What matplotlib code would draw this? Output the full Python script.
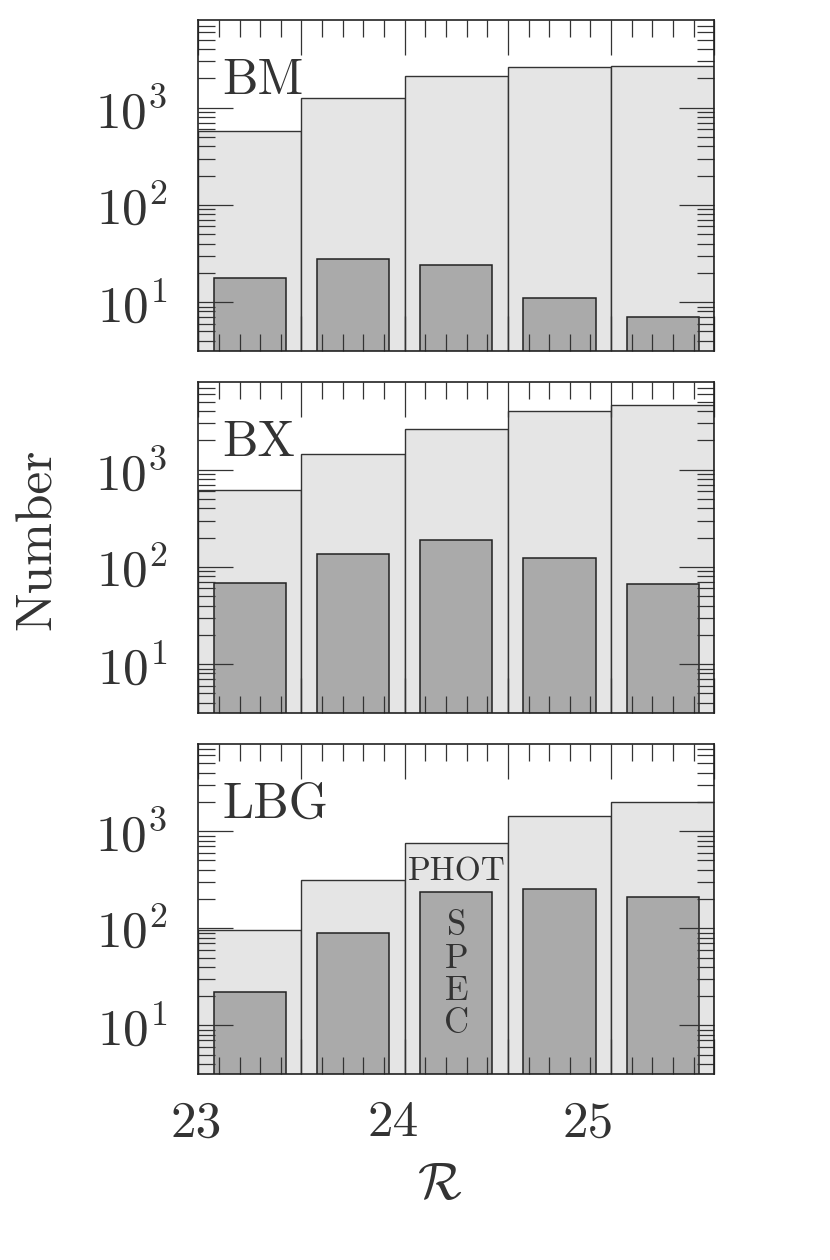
import matplotlib
matplotlib.use("Agg")
import matplotlib.pyplot as plt
import matplotlib.transforms as mtransforms
from matplotlib.ticker import MultipleLocator, LogLocator, FuncFormatter, NullFormatter

plt.rcParams['font.family'] = 'serif'
plt.rcParams['font.serif'] = ['cmr10']
plt.rcParams['mathtext.fontset'] = 'cm'
plt.rcParams['axes.formatter.use_mathtext'] = True
plt.rcParams['axes.unicode_minus'] = False

# R-magnitude bins (centres) and counts per sample
r_centers = [23.25, 23.75, 24.25, 24.75, 25.25]
samples = ['BM', 'BX', 'LBG']
phot_bm = [577, 1250, 2100, 2610, 2720]
spec_bm = [17.9, 28, 24.2, 11.0, 7.0]
phot_bx = [612, 1436, 2640, 4000, 4610]
spec_bx = [68, 137, 187, 124, 66]
phot_lbg = [97, 314, 748, 1436, 1972]
spec_lbg = [22.2, 90, 235, 252, 211]

phot = [phot_bm, phot_bx, phot_lbg]
spec = [spec_bm, spec_bx, spec_lbg]

txt_col = '#333333'
fig = plt.figure(figsize=(8.3, 12.6), dpi=100)
bottoms = [0.7217, 0.4344, 0.1476]

for i, name in enumerate(samples):
    ax = fig.add_axes([0.2389, bottoms[i], 0.6217, 0.2622])
    ax.bar(r_centers, phot[i], width=0.5, color='#e5e5e5', edgecolor='#333333', linewidth=1.0, zorder=1)
    ax.bar(r_centers, spec[i], width=0.35, color='#aaaaaa', edgecolor='#222222', linewidth=1.1, zorder=1.5)
    ax.set_yscale('log')
    ax.set_xlim(23.0, 25.5)
    ax.set_ylim(10**0.5, 10**3.9)

    ax.xaxis.set_major_locator(MultipleLocator(0.5))
    ax.xaxis.set_minor_locator(MultipleLocator(0.1))
    ax.yaxis.set_major_locator(LogLocator(base=10, numticks=10))
    ax.yaxis.set_minor_locator(LogLocator(base=10, subs=range(2, 10), numticks=20))
    ax.yaxis.set_minor_formatter(NullFormatter())

    ax.tick_params(which='both', direction='in', top=True, right=True, color='#333333', width=0.9)
    ax.tick_params(which='major', length=25)
    ax.tick_params(which='minor', length=12)
    ax.tick_params(axis='y', which='major', labelsize=37, pad=22, labelcolor=txt_col)
    if i < 2:
        ax.tick_params(axis='x', labelbottom=False)
    else:
        ax.xaxis.set_major_formatter(FuncFormatter(lambda v, p: '%d' % v if abs(v - round(v)) < 1e-6 else ''))
        ax.tick_params(axis='x', which='major', labelsize=37, pad=19, labelcolor=txt_col)
    for sp in ax.spines.values():
        sp.set_linewidth(1.2)
        sp.set_color('#222222')

    ax.text(0.047, 0.777, name, transform=ax.transAxes, fontsize=36, color=txt_col, va='baseline', ha='left')

    if name == 'LBG':
        ax.text(24.25, 307, 'PHOT', fontsize=24, color=txt_col, ha='center', va='baseline')
        ax.text(24.25, 32.8, 'S\nP\nE\nC', fontsize=25, color=txt_col, ha='center', va='center',
                multialignment='center', linespacing=1.04)
        # shift the tick labels slightly left, as in the original layout
        fig.canvas.draw()
        shifts = {23: -2, 24: -12, 25: -23}
        for lab in ax.get_xticklabels():
            t = lab.get_text()
            if t.strip():
                dx = shifts.get(int(t), 0)
                off = mtransforms.ScaledTranslation(dx / 100, 0, fig.dpi_scale_trans)
                lab.set_transform(lab.get_transform() + off)

fig.text(38 / 830, 0.572, 'Number', rotation=90, fontsize=37, color=txt_col, ha='center', va='center')
fig.text(440 / 830, 1 - 1186 / 1260, r'$\mathcal{R}$', fontsize=37, color=txt_col, ha='center', va='center')

plt.savefig('out.png', dpi=100)
